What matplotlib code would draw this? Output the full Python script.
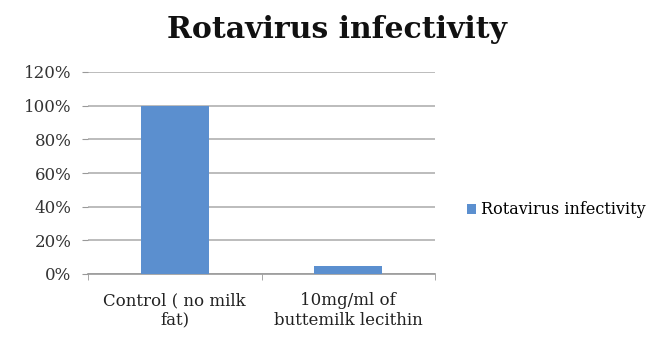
import matplotlib.pyplot as plt
import numpy as np

# Infectivity relative to control
categories = ['Control ( no milk\nfat)', '10mg/ml of\nbuttemilk lecithin']
values = [100, 5]
series_name = 'Rotavirus infectivity'
yticks = [0, 20, 40, 60, 80, 100, 120]

plt.rcParams['font.family'] = ['DejaVu Serif']

fig = plt.figure(figsize=(6.59, 3.43), dpi=100)
ax = fig.add_axes([88 / 659, 1 - 274 / 343, 347 / 659, 202 / 343])

x = np.arange(len(categories))
ax.bar(x, values, width=0.39, color='#5b8fcf', label=series_name, zorder=3)

ax.set_xlim(-0.5, len(categories) - 0.5)
ax.set_ylim(0, 120)
ax.set_yticks(yticks)
ax.set_yticklabels([f'{v}%' for v in yticks], fontsize=12, color='#333333')
ax.set_xticks(x)
ax.set_xticklabels(categories, fontsize=12, color='#222222', linespacing=1.2)
ax.set_xticks([-0.5, 0.5, 1.5], minor=True)
ax.tick_params(axis='x', which='major', length=0, pad=13)
ax.tick_params(axis='x', which='minor', length=4, color='#999999')
ax.tick_params(axis='y', length=4, color='#999999', pad=8)

ax.yaxis.grid(True, color='#b0b0b0', linewidth=1.2, zorder=0)
for side in ['top', 'right', 'left']:
    ax.spines[side].set_visible(False)
ax.spines['bottom'].set_color('#999999')
ax.spines['bottom'].set_linewidth(1.2)

fig.suptitle('Rotavirus infectivity', x=337 / 659, y=0.955, fontsize=21.5,
             fontweight='bold', color='#111111')

fig.legend(loc='center left', bbox_to_anchor=(467 / 659, 1 - 210 / 343),
           frameon=False, fontsize=11.5, handlelength=0.55, handleheight=0.55,
           handletextpad=0.3, borderpad=0, borderaxespad=0)

fig.savefig('out.png', dpi=100)
